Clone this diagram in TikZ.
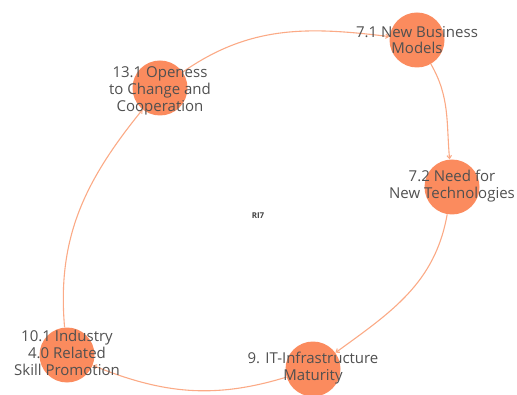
\documentclass[tikz,border=0pt]{standalone}
\usepackage{fontspec}
\setmainfont{Open Sans}
\usetikzlibrary{arrows.meta}
\definecolor{nodefill}{HTML}{FB8B5E}
\definecolor{linkcol}{HTML}{FBAA86}
\definecolor{labelcol}{HTML}{505050}
\begin{document}
\begin{tikzpicture}[x=1pt,y=1pt,
  factor/.style={circle, fill=nodefill, minimum size=55pt, inner sep=0pt},
  caption/.style={align=center, text=labelcol, inner sep=0pt,
    font=\fontsize{15}{16.8}\selectfont},
  link/.style={draw=linkcol, line width=1.1pt,
    -{Straight Barb[length=3pt,width=4.5pt]}}]
\useasboundingbox (0,0) rectangle (517,394);

% factor circles
\node[factor] (c71)  at (417,354) {};
\node[factor] (c72)  at (452,207) {};
\node[factor] (c131) at (160,306) {};
\node[factor] (c101) at (67,39) {};
\node[factor] (c9)   at (313,25) {};

% the feedback loop
\draw[link] (c131) to[out=35,  in=173] (c71);
\draw[link] (c71)  to[out=-60, in=95]  (c72);
\draw[link] (c72)  to[out=-100,in=36]  (c9);
\draw[link] (c9)   to[out=197, in=-22] (c101);
\draw[link] (c101) to[out=95,  in=231] (c131);

% labels
\node[caption] (t71)  at (417,354) {7.1 New Business\\Models};
\node[caption] (t72)  at (452,208) {7.2 Need for\\New Technologies};
\node[caption] (t131) at (160,303) {13.1 Openess\\to Change and\\Cooperation};
\node[caption] (t101) at (67,41) {10.1 Industry\\4.0 Related\\Skill Promotion};
\node[caption] (t9)   at (313,26) {9. IT-Infrastructure\\Maturity};
\node[text=labelcol!80!black, font=\bfseries\fontsize{8}{9}\selectfont]
  (loop) at (258,178) {RI7};
\end{tikzpicture}
\end{document}
